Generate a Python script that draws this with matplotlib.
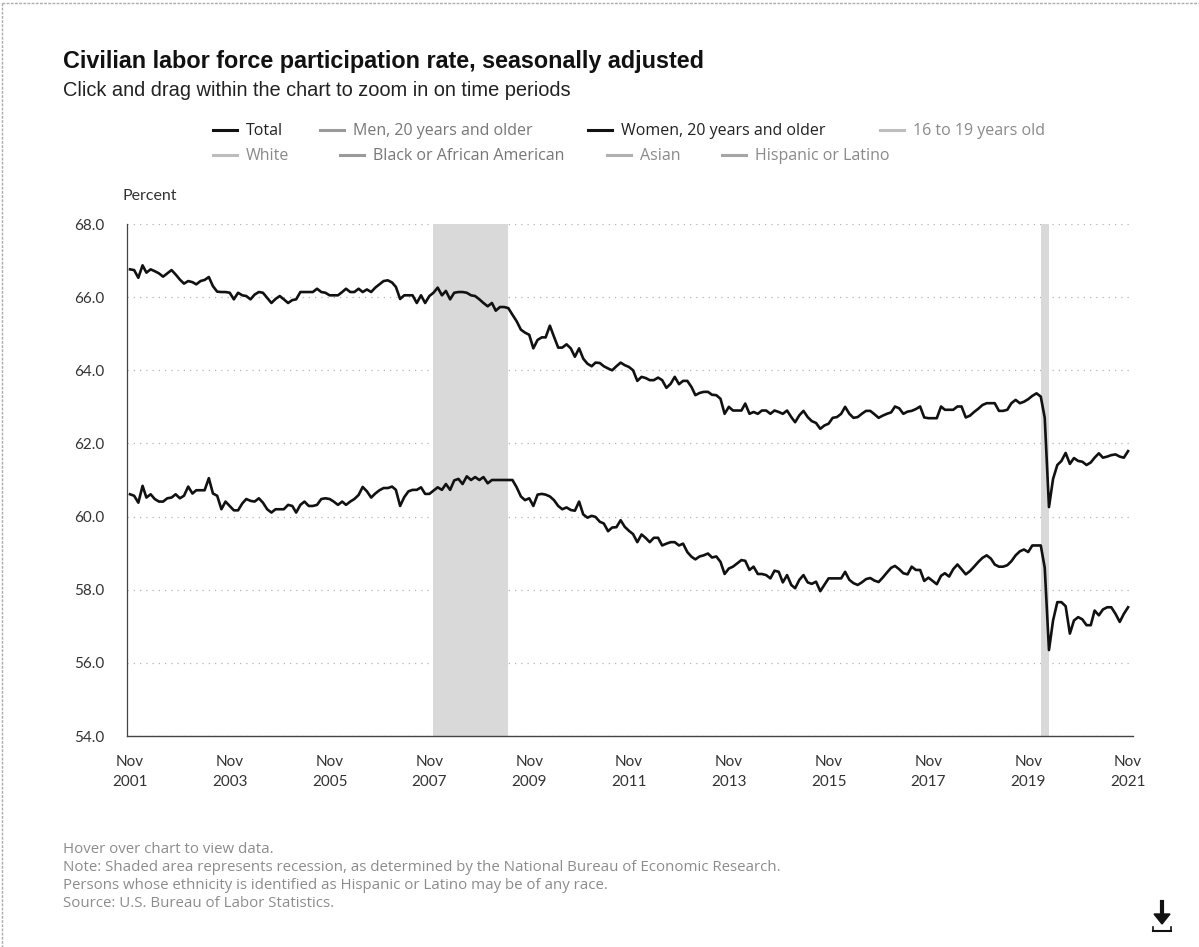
import matplotlib.pyplot as plt
import pandas as pd
from matplotlib.lines import Line2D

# monthly values, Nov 2001 .. Nov 2021
months = pd.date_range('2001-11-01', '2021-11-01', freq='MS')

total = [
    66.76, 66.74, 66.53, 66.87, 66.67, 66.76, 66.71, 66.65, 66.56, 66.65, 66.74, 66.62,
    66.48, 66.37, 66.44, 66.41, 66.35, 66.44, 66.47, 66.55, 66.30, 66.15, 66.14, 66.14,
    66.12, 65.94, 66.12, 66.05, 66.03, 65.94, 66.07, 66.14, 66.12, 65.98, 65.84, 65.95,
    66.03, 65.94, 65.84, 65.92, 65.94, 66.14, 66.14, 66.14, 66.14, 66.23, 66.14, 66.12,
    66.05, 66.05, 66.05, 66.14, 66.23, 66.14, 66.14, 66.23, 66.14, 66.21, 66.14, 66.26,
    66.35, 66.44, 66.46, 66.40, 66.28, 65.95, 66.05, 66.05, 66.05, 65.84, 66.05, 65.84,
    66.03, 66.12, 66.26, 66.05, 66.17, 65.94, 66.12, 66.14, 66.14, 66.12, 66.05, 66.03,
    65.94, 65.84, 65.75, 65.84, 65.63, 65.73, 65.73, 65.70, 65.52, 65.34, 65.11, 65.03,
    64.97, 64.60, 64.83, 64.90, 64.90, 65.22, 64.92, 64.62, 64.62, 64.71, 64.60, 64.37,
    64.60, 64.32, 64.18, 64.11, 64.21, 64.20, 64.11, 64.05, 64.00, 64.11, 64.21, 64.14,
    64.09, 64.00, 63.71, 63.82, 63.79, 63.73, 63.73, 63.80, 63.73, 63.52, 63.63, 63.82,
    63.62, 63.71, 63.71, 63.54, 63.32, 63.38, 63.41, 63.41, 63.33, 63.32, 63.22, 62.81,
    63.00, 62.90, 62.90, 62.90, 63.09, 62.81, 62.86, 62.81, 62.90, 62.90, 62.81, 62.90,
    62.86, 62.81, 62.90, 62.72, 62.58, 62.77, 62.89, 62.72, 62.61, 62.56, 62.40, 62.49,
    62.54, 62.70, 62.72, 62.81, 63.00, 62.81, 62.70, 62.72, 62.81, 62.89, 62.89, 62.80,
    62.70, 62.76, 62.81, 62.85, 63.01, 62.96, 62.81, 62.87, 62.89, 62.94, 63.01, 62.71,
    62.69, 62.69, 62.69, 63.01, 62.92, 62.92, 62.92, 63.01, 63.01, 62.71, 62.76, 62.86,
    62.95, 63.05, 63.10, 63.10, 63.10, 62.89, 62.89, 62.92, 63.10, 63.19, 63.10, 63.14,
    63.21, 63.30, 63.37, 63.28, 62.70, 60.26, 61.03, 61.41, 61.52, 61.74, 61.44, 61.60,
    61.52, 61.50, 61.41, 61.48, 61.61, 61.73, 61.61, 61.64, 61.68, 61.70, 61.64, 61.61,
    61.79,
]

women = [
    60.61, 60.57, 60.38, 60.84, 60.52, 60.61, 60.48, 60.41, 60.41, 60.50, 60.52, 60.61,
    60.50, 60.57, 60.82, 60.63, 60.72, 60.72, 60.72, 61.05, 60.63, 60.57, 60.20, 60.41,
    60.29, 60.17, 60.17, 60.36, 60.48, 60.43, 60.41, 60.50, 60.38, 60.20, 60.11, 60.20,
    60.20, 60.20, 60.32, 60.29, 60.11, 60.32, 60.41, 60.29, 60.29, 60.32, 60.48, 60.50,
    60.48, 60.41, 60.32, 60.41, 60.32, 60.41, 60.48, 60.59, 60.81, 60.69, 60.52, 60.63,
    60.72, 60.78, 60.78, 60.82, 60.73, 60.29, 60.53, 60.69, 60.73, 60.73, 60.80, 60.62,
    60.62, 60.71, 60.80, 60.73, 60.89, 60.73, 60.99, 61.03, 60.89, 61.10, 61.00, 61.08,
    61.00, 61.08, 60.91, 61.00, 61.00, 61.00, 61.00, 61.00, 61.00, 60.80, 60.55, 60.45,
    60.50, 60.29, 60.60, 60.62, 60.60, 60.55, 60.45, 60.29, 60.20, 60.25, 60.18, 60.16,
    60.41, 60.06, 59.97, 60.02, 59.99, 59.86, 59.81, 59.60, 59.70, 59.71, 59.90, 59.72,
    59.61, 59.52, 59.30, 59.51, 59.42, 59.30, 59.42, 59.42, 59.21, 59.26, 59.30, 59.30,
    59.21, 59.26, 59.03, 58.90, 58.83, 58.91, 58.94, 58.99, 58.88, 58.91, 58.76, 58.43,
    58.58, 58.63, 58.72, 58.81, 58.79, 58.54, 58.63, 58.43, 58.43, 58.40, 58.31, 58.52,
    58.49, 58.20, 58.40, 58.13, 58.04, 58.27, 58.40, 58.20, 58.16, 58.22, 57.96, 58.13,
    58.31, 58.31, 58.31, 58.31, 58.49, 58.27, 58.18, 58.13, 58.20, 58.29, 58.32, 58.25,
    58.21, 58.33, 58.47, 58.60, 58.65, 58.56, 58.45, 58.42, 58.63, 58.54, 58.54, 58.24,
    58.33, 58.24, 58.15, 58.38, 58.45, 58.36, 58.56, 58.69, 58.56, 58.42, 58.51, 58.63,
    58.76, 58.87, 58.94, 58.85, 58.69, 58.63, 58.63, 58.67, 58.78, 58.94, 59.05, 59.10,
    59.03, 59.21, 59.21, 59.21, 58.60, 56.35, 57.16, 57.66, 57.66, 57.55, 56.80, 57.16,
    57.25, 57.19, 57.03, 57.03, 57.43, 57.30, 57.46, 57.52, 57.52, 57.34, 57.12, 57.34,
    57.52,
]

recessions = [('2007-12-01', '2009-06-01'), ('2020-02-01', '2020-04-01')]

y_ticks = [54.0, 56.0, 58.0, 60.0, 62.0, 64.0, 66.0, 68.0]
x_tick_years = [2001, 2003, 2005, 2007, 2009, 2011, 2013, 2015, 2017, 2019, 2021]

# legend rows: (label, handle colour, text colour)
legend_row1 = [('Total', '#111111', '#222222'),
               ('Men, 20 years and older', '#9a9a9a', '#777777'),
               ('Women, 20 years and older', '#111111', '#222222'),
               ('16 to 19 years old', '#bdbdbd', '#8a8a8a')]
legend_row2 = [('White', '#bdbdbd', '#8a8a8a'),
               ('Black or African American', '#9a9a9a', '#777777'),
               ('Asian', '#b0b0b0', '#8a8a8a'),
               ('Hispanic or Latino', '#a5a5a5', '#8a8a8a')]
row1_x = [213, 320, 588, 880]
row2_x = [213, 340, 607, 722]

notes = ['Hover over chart to view data.',
         'Note: Shaded area represents recession, as determined by the National Bureau of Economic Research.',
         'Persons whose ethnicity is identified as Hispanic or Latino may be of any race.',
         'Source: U.S. Bureau of Labor Statistics.']

W, H = 1199, 947


def fx(px):
    return px / W


def fy(py):
    return 1 - py / H


fig = plt.figure(figsize=(W / 100, H / 100), dpi=100)
fig.patch.set_facecolor('white')

ax = fig.add_axes([fx(127), fy(736), fx(1133) - fx(127), fy(224) - fy(736)])

for start, end in recessions:
    ax.axvspan(pd.Timestamp(start), pd.Timestamp(end), color='#d9d9d9', lw=0, zorder=1)

ax.plot(months, total, color='#111111', lw=1.9, zorder=3)
ax.plot(months, women, color='#111111', lw=1.9, zorder=3)

ax.set_ylim(54, 68)
ax.set_xlim(pd.Timestamp('2001-10-10'), pd.Timestamp('2021-12-07'))
ax.set_yticks(y_ticks)
ax.set_yticklabels(['%.1f' % v for v in y_ticks], fontfamily='Lato', fontsize=11, color='#333333')
xt = [pd.Timestamp('%d-11-01' % y) for y in x_tick_years]
ax.set_xticks(xt)
ax.set_xticklabels(['Nov\n%d' % y for y in x_tick_years], fontfamily='Lato', fontsize=11,
                   color='#333333', linespacing=1.5)
ax.tick_params(axis='both', length=0)
ax.tick_params(axis='y', pad=16)
ax.tick_params(axis='x', pad=14)

ax.grid(axis='y', color='#b5b5b5', linestyle=(0, (1, 4)), lw=0.9)
ax.set_axisbelow(True)
for s in ['top', 'right']:
    ax.spines[s].set_visible(False)
ax.spines['left'].set_color('#444444')
ax.spines['bottom'].set_color('#444444')
ax.spines['left'].set_linewidth(0.9)
ax.spines['bottom'].set_linewidth(1.0)

# titles
fig.text(fx(63), fy(68), 'Civilian labor force participation rate, seasonally adjusted',
         fontfamily='Liberation Sans', fontweight='bold', fontsize=16.8, color='#111111', va='baseline')
fig.text(fx(63), fy(96), 'Click and drag within the chart to zoom in on time periods',
         fontfamily='Liberation Sans', fontsize=14.4, color='#222222', va='baseline')
fig.text(fx(122), fy(200), 'Percent', fontfamily='Lato', fontsize=11.5, color='#333333', va='baseline')

# legend
for row, xs, yc in [(legend_row1, row1_x, 130), (legend_row2, row2_x, 155)]:
    for (label, hc, tc), x0 in zip(row, xs):
        fig.add_artist(Line2D([fx(x0), fx(x0 + 24)], [fy(yc), fy(yc)], color=hc, lw=2.2))
        fig.text(fx(x0 + 33), fy(yc + 1), label, fontfamily='Open Sans', fontsize=11.5, color=tc,
                 va='center')

# notes
for i, line in enumerate(notes):
    fig.text(fx(63), fy(853 + 18 * i), line, fontfamily='Open Sans', fontsize=10.8, color='#8c8c8c',
             va='baseline')

# download icon
fig.add_artist(Line2D([fx(1162), fx(1162)], [fy(902), fy(916)], color='#111111', lw=3))
fig.patches.append(plt.Polygon([(fx(1154), fy(914)), (fx(1170), fy(914)), (fx(1162), fy(924))],
                               closed=True, color='#111111', transform=fig.transFigure))
fig.add_artist(Line2D([fx(1153), fx(1171)], [fy(931), fy(931)], color='#111111', lw=1.5))
fig.add_artist(Line2D([fx(1153), fx(1153)], [fy(927), fy(931)], color='#111111', lw=1.2))
fig.add_artist(Line2D([fx(1171), fx(1171)], [fy(927), fy(931)], color='#111111', lw=1.2))

# page border
fig.add_artist(Line2D([fx(2), fx(2)], [fy(3), fy(947)], color='#aaaaaa', lw=1, linestyle=(0, (2, 1))))
fig.add_artist(Line2D([fx(2), fx(1199)], [fy(3), fy(3)], color='#aaaaaa', lw=1, linestyle=(0, (2, 1))))

fig.savefig('out.png', dpi=100)
